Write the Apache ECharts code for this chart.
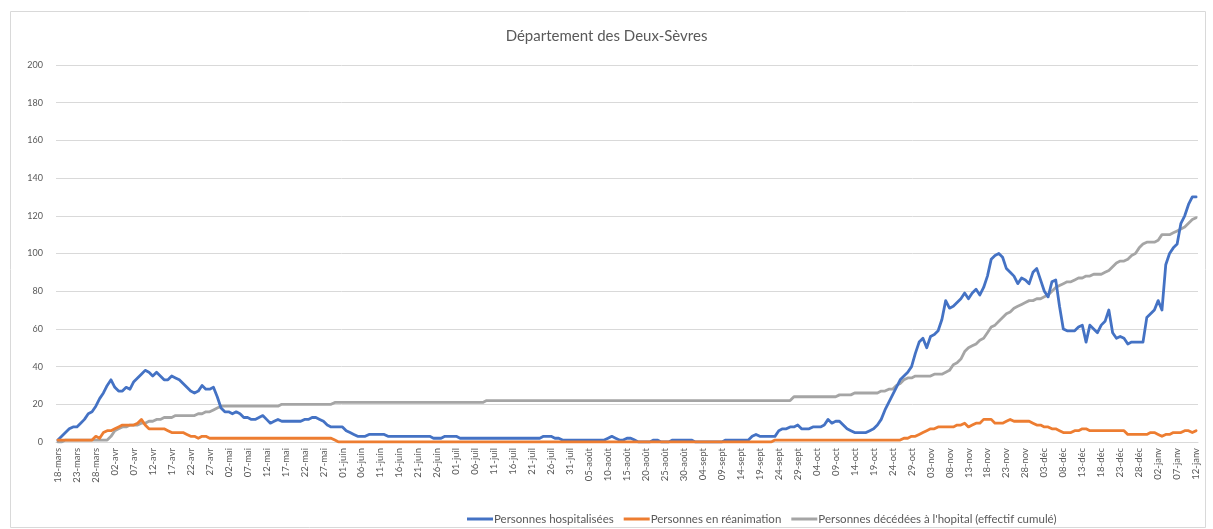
<!DOCTYPE html>
<html>
<head>
<meta charset="utf-8">
<script src="https://cdn.jsdelivr.net/npm/echarts/dist/echarts.min.js"></script>
<style>html,body{margin:0;padding:0;background:#fff;}#c{width:1213px;height:529px;}</style>
</head>
<body>
<div id="c"></div>
<script>
// Month names and lengths used for the category labels (18-mars 2020 -> 12-janv 2021)
const monthNames = ['mars','avr','mai','juin','juil','août','sept','oct','nov','déc','janv'];
const monthDays  = [31,30,31,30,31,31,30,31,30,31,31];
const startDay = 18, nPoints = 301;
const categories = [];
(function(){ let m=0,d=startDay; while(categories.length<nPoints){ categories.push((d<10?'0':'')+d+'-'+monthNames[m]); d++; if(d>monthDays[m]){d=1;m++;} } })();

const hospitalisees = [
1,3,5,7,8,8,10,12,15,16,
19,23,26,30,33,29,27,27,29,28,
32,34,36,38,37,35,37,35,33,33,
35,34,33,31,29,27,26,27,30,28,
28,29,24,18,16,16,15,16,15,13,
13,12,12,13,14,12,10,11,12,11,
11,11,11,11,11,12,12,13,13,12,
11,9,8,8,8,8,6,5,4,3,
3,3,4,4,4,4,4,3,3,3,
3,3,3,3,3,3,3,3,3,2,
2,2,3,3,3,3,2,2,2,2,
2,2,2,2,2,2,2,2,2,2,
2,2,2,2,2,2,2,2,3,3,
3,2,2,1,1,1,1,1,1,1,
1,1,1,1,1,2,3,2,1,1,
2,2,1,0,0,0,0,1,1,0,
0,0,1,1,1,1,1,1,0,0,
0,0,0,0,0,0,1,1,1,1,
1,1,1,3,4,3,3,3,3,3,
6,7,7,8,8,9,7,7,7,8,
8,8,9,12,10,11,11,9,7,6,
5,5,5,5,6,7,9,12,17,21,
25,29,33,35,37,40,47,53,55,50,
56,57,59,65,75,71,72,74,76,79,
76,79,81,78,82,88,97,99,100,98,
92,90,88,84,87,86,84,90,92,86,
80,77,85,86,72,60,59,59,59,61,
62,53,62,60,58,62,64,70,58,55,
56,55,52,53,53,53,53,66,68,70,
75,70,94,100,103,105,116,120,126,130,130
];

const reanimation = [
1,1,1,1,1,1,1,1,1,1,
3,2,5,6,6,7,8,9,9,9,
9,10,12,9,7,7,7,7,7,6,
5,5,5,5,4,3,3,2,3,3,
2,2,2,2,2,2,2,2,2,2,
2,2,2,2,2,2,2,2,2,2,
2,2,2,2,2,2,2,2,2,2,
2,2,2,1,0,0,0,0,0,0,
0,0,0,0,0,0,0,0,0,0,
0,0,0,0,0,0,0,0,0,0,
0,0,0,0,0,0,0,0,0,0,
0,0,0,0,0,0,0,0,0,0,
0,0,0,0,0,0,0,0,0,0,
0,0,0,0,0,0,0,0,0,0,
0,0,0,0,0,0,0,0,0,0,
0,0,0,0,0,0,0,0,0,0,
0,0,0,0,0,0,0,0,0,0,
0,0,0,0,0,0,0,0,0,0,
0,0,0,0,0,0,0,0,0,1,
1,1,1,1,1,1,1,1,1,1,
1,1,1,1,1,1,1,1,1,1,
1,1,1,1,1,1,1,1,1,1,
1,1,1,2,2,3,3,4,5,6,
7,7,8,8,8,8,8,9,9,10,
8,9,10,10,12,12,12,10,10,10,
11,12,11,11,11,11,11,10,9,9,
8,8,7,7,6,5,5,5,6,6,
7,7,6,6,6,6,6,6,6,6,
6,6,4,4,4,4,4,4,5,5,
4,3,4,4,5,5,5,6,6,5,6
];

const decedes = [
0,0,1,1,1,1,1,1,1,1,
1,1,1,1,3,6,7,8,8,9,
9,9,10,10,11,11,12,12,13,13,
13,14,14,14,14,14,14,15,15,16,
16,17,18,19,19,19,19,19,19,19,
19,19,19,19,19,19,19,19,19,20,
20,20,20,20,20,20,20,20,20,20,
20,20,20,21,21,21,21,21,21,21,
21,21,21,21,21,21,21,21,21,21,
21,21,21,21,21,21,21,21,21,21,
21,21,21,21,21,21,21,21,21,21,
21,21,21,22,22,22,22,22,22,22,
22,22,22,22,22,22,22,22,22,22,
22,22,22,22,22,22,22,22,22,22,
22,22,22,22,22,22,22,22,22,22,
22,22,22,22,22,22,22,22,22,22,
22,22,22,22,22,22,22,22,22,22,
22,22,22,22,22,22,22,22,22,22,
22,22,22,22,22,22,22,22,22,22,
22,22,22,22,24,24,24,24,24,24,
24,24,24,24,24,24,25,25,25,25,
26,26,26,26,26,26,26,27,27,28,
28,30,31,33,34,34,35,35,35,35,
35,36,36,36,37,38,41,42,44,48,
50,51,52,54,55,58,61,62,64,66,
68,69,71,72,73,74,75,75,76,76,
77,78,80,82,83,84,85,85,86,87,
87,88,88,89,89,89,90,91,93,95,
96,96,97,99,100,103,105,106,106,106,
107,110,110,110,111,112,113,114,116,118,119
];

const seriesNames = ['Personnes hospitalisées','Personnes en réanimation',"Personnes décédées à l'hopital (effectif cumulé)"];
const colors = ['#4472C4','#ED7D31','#A5A5A5'];
const FONT = 'Lato, "Open Sans", sans-serif';

const chart = echarts.init(document.getElementById('c'), null, {renderer:'canvas'});
function mk(i, data){
  return {name: seriesNames[i], type:'line', data: data, symbol:'none', smooth:false,
    lineStyle:{width:2.8, color:colors[i], cap:'round', join:'round'}, itemStyle:{color:colors[i]}, z: 3 - (i===2?1:0)};
}
chart.setOption({
  animation:false,
  textStyle:{fontFamily:FONT},
  title:{text:'Département des Deux-Sèvres', left:'center', top:24,
    textStyle:{fontSize:15, fontWeight:'normal', color:'#595959', fontFamily:FONT}},
  graphic:[{type:'rect', shape:{x:10.5, y:11.5, width:1195, height:516},
    style:{fill:'none', stroke:'#d9d9d9', lineWidth:1}, silent:true}],
  legend:{left:462, top:508, itemWidth:26, itemHeight:3, itemGap:10, icon:'rect',
    textStyle:{fontSize:11.5, color:'#595959', fontFamily:FONT, padding:[0,0,0,-4]},
    data:seriesNames},
  grid:{left:56, right:15, top:65, bottom:87, containLabel:false},
  xAxis:{type:'category', data:categories, boundaryGap:true,
    axisLine:{show:true, lineStyle:{color:'#d9d9d9', width:1}},
    axisTick:{show:false},
    axisLabel:{rotate:90, interval:4, fontSize:9.5, color:'#595959', margin:6, fontFamily:FONT},
    splitLine:{show:false}},
  yAxis:{type:'value', min:0, max:200, interval:20,
    axisLine:{show:false}, axisTick:{show:false},
    axisLabel:{fontSize:9, color:'#595959', margin:13, fontFamily:FONT},
    splitLine:{lineStyle:{color:'#d9d9d9', width:1}}},
  series:[mk(0,hospitalisees), mk(1,reanimation), mk(2,decedes)]
});
</script>
</body>
</html>
